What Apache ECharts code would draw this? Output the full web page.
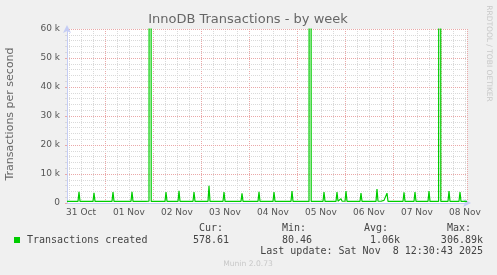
<!DOCTYPE html>
<html><head><meta charset="utf-8">
<script src="https://cdn.jsdelivr.net/npm/echarts@6/dist/echarts.min.js"></script>
<style>html,body{margin:0;padding:0;background:#f0f0f0;}#c{width:497px;height:275px;}</style>
</head><body><div id="c"></div>
<script>
// hours since 31 Oct 00:00
const dayLabels = ['31 Oct','01 Nov','02 Nov','03 Nov','04 Nov','05 Nov','06 Nov','07 Nov','08 Nov'];
const hours = [5, 10.5,11,11.5, 18,18.5,19, 27.5,28,28.5, 37,37.5,38, 41,41.5,42, 44.5,45,45.5,
  46.0,46.2,46.9,47.1, 54,54.5,55, 56.5,57,57.5, 60.5,61,61.5, 68,68.5,69, 75.5,76,76.5, 83,83.5,84,
  92,92.5,93, 100.5,101,101.5, 108,108.5,109, 117,117.5,118, 126.0,126.2,126.9,127.1, 133,133.5,134,
  136,136.5,137, 139.5,140,140.5, 141.5,142,142.5, 144,144.5,145, 147.5,148,148.5, 151.5,152,152.5,
  159.5,160,160.5, 162,162.5,163,163.5,164, 164.5,165,165.5, 173,173.5,174, 178.5,179,179.5,
  185.5,186,186.5, 190.8,191.0,191.7,191.9, 195.5,196,196.5, 201,201.5,202, 205];
const transactions = [560, 550,3900,560, 540,3500,550, 560,3800,550, 540,3900,560, 560,800,550, 560,1200,600,
  600,280000,306890,550, 550,3800,560, 560,900,550, 540,4200,550, 550,3800,560, 560,5900,540, 550,3800,560,
  560,3300,550, 550,3900,560, 560,3800,550, 550,4100,560, 560,250000,270000,550, 550,3800,560,
  560,800,560, 550,3800,600, 600,1500,650, 600,4100,560, 560,800,550, 550,3400,560,
  560,4800,600, 600,1000,700,900,560, 560,3400,550, 550,3700,560, 560,3800,550,
  550,4100,560, 560,290000,300000,550, 550,4100,560, 560,3800,560, 578.61];
const statHeads = ['Cur:','Min:','Avg:','Max:'];
const statValues = ['578.61','80.46','1.06k','306.89k'];
const lastUpdate = 'Last update: Sat Nov  8 12:30:43 2025';

const FONT = 'DejaVu Sans';
const MGRID = '#eaa8a8';
const GRID = '#d9d9d9';
const AXIS = '#c4ccf4';

const chart = echarts.init(document.getElementById('c'), null, {renderer:'canvas'});
const headX = [199, 282, 364, 447];
const valRight = [229, 312, 400, 483];
const graphics = [
  {type:'text', x:248, y:20, style:{text:'InnoDB Transactions - by week', font:'13px "DejaVu Sans"', fill:'#666', align:'center', verticalAlign:'middle'}},
  {type:'text', x:10.5, y:114, rotation:Math.PI/2, style:{text:'Transactions per second', font:'11px "DejaVu Sans"', fill:'#666', align:'center', verticalAlign:'middle'}},
  {type:'text', x:488.5, y:53.5, rotation:-Math.PI/2, style:{text:'RRDTOOL / TOBI OETIKER', font:'7.5px "DejaVu Sans"', fill:'#c8c8c8', align:'center', verticalAlign:'middle'}},
  {type:'rect', shape:{x:14, y:237, width:6, height:6}, style:{fill:'#00cc00'}},
  {type:'text', x:27, y:240, style:{text:'Transactions created', font:'10px "DejaVu Sans Mono"', fill:'#444', align:'left', verticalAlign:'middle'}},
  {type:'text', x:483, y:251.5, style:{text:lastUpdate, font:'10px "DejaVu Sans Mono"', fill:'#444', align:'right', verticalAlign:'middle'}},
  {type:'text', x:248, y:264, style:{text:'Munin 2.0.73', font:'7.6px "DejaVu Sans"', fill:'#c8c8c8', align:'center', verticalAlign:'middle'}}
];
statHeads.forEach((s,i)=>graphics.push({type:'text', x:headX[i], y:228, style:{text:s, font:'10px "DejaVu Sans Mono"', fill:'#444', align:'left', verticalAlign:'middle'}}));
statValues.forEach((s,i)=>graphics.push({type:'text', x:valRight[i], y:240, style:{text:s, font:'10px "DejaVu Sans Mono"', fill:'#444', align:'right', verticalAlign:'middle'}}));

const hidden = {axisLine:{show:false}, axisTick:{show:false}, axisLabel:{show:false}};
const option = {
  backgroundColor:'#f0f0f0',
  animation:false,
  grid:[
    {left:67, top:29, width:400, height:174, show:true, backgroundColor:'#ffffff', borderWidth:0, z:-5},
    {left:57, top:29, width:410, height:174},
    {left:33, top:29, width:434, height:174}
  ],
  xAxis:[
    {type:'value', gridIndex:0, min:5, max:205, splitLine:{show:false}, axisTick:{show:false}, axisLabel:{show:false},
     axisLine:{show:true, lineStyle:{color:AXIS, width:1}, symbol:['none','arrow'], symbolSize:[6,8], symbolOffset:[0,4]}, z:3},
    Object.assign({type:'value', gridIndex:1, min:0, max:205, interval:6,
     splitLine:{show:true, showMinLine:false, lineStyle:{color:GRID, type:[1,1], width:1}}}, hidden),
    Object.assign({type:'value', gridIndex:1, min:0, max:205, interval:24,
     splitLine:{show:true, showMinLine:false, lineStyle:{color:MGRID, type:[1,1], width:1}}}, hidden),
    {type:'value', gridIndex:2, min:-12, max:205, interval:24, axisLine:{show:false}, axisTick:{show:false}, splitLine:{show:false},
     axisLabel:{show:true, showMinLabel:true, showMaxLabel:true, margin:5, color:'#555', fontFamily:FONT, fontSize:9,
       formatter:function(v){ const r=((v%24)+24)%24; if (Math.abs(r-12)>0.01) return ''; const k=Math.round((v-12)/24); return dayLabels[k]||''; }}}
  ],
  yAxis:[
    {type:'value', gridIndex:0, min:0, max:60000, interval:10000,
     axisLine:{show:true, lineStyle:{color:AXIS, width:1}, symbol:['none','arrow'], symbolSize:[6,8], symbolOffset:[0,4]},
     axisTick:{show:true, length:2, lineStyle:{color:MGRID}},
     minorTick:{show:true, splitNumber:5, length:2, lineStyle:{color:GRID}},
     axisLabel:{color:'#555', fontFamily:FONT, fontSize:9, margin:7,
       formatter:function(v){ return v===0 ? '0' : (v/1000)+' k'; }},
     splitLine:{show:true, lineStyle:{color:MGRID, type:[1,1], width:1}},
     minorSplitLine:{show:true, lineStyle:{color:GRID, type:[1,1], width:1}}, z:3},
    {type:'value', gridIndex:1, show:false, min:0, max:1},
    {type:'value', gridIndex:2, show:false, min:0, max:1}
  ],
  graphic: graphics,
  series:[{
    name:'Transactions created', type:'line', xAxisIndex:0, yAxisIndex:0,
    data: hours.map((h,i)=>[h, transactions[i]]),
    showSymbol:false, symbol:'none', clip:true,
    lineStyle:{color:'#00cc00', width:1.2}, z:5
  }]
};
chart.setOption(option);
</script></body></html>
